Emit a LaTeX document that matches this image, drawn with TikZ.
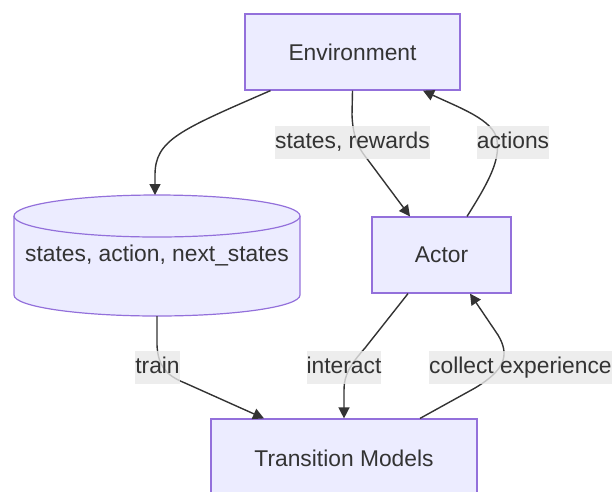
\documentclass[tikz,border=0pt]{standalone}
\usepackage{fontspec}
\setmainfont{Liberation Sans}
\usepackage{xcolor}
\usetikzlibrary{arrows.meta,positioning}
\definecolor{boxfill}{HTML}{ECECFF}
\definecolor{boxline}{HTML}{9370DB}
\definecolor{ink}{HTML}{333333}
\definecolor{lblgray}{HTML}{E8E8E8}

\begin{document}
\begin{tikzpicture}[x=1pt,y=-1pt,
    block/.style={draw=boxline,fill=boxfill,line width=1.2pt,text=ink,
      font=\fontsize{22.8}{27}\selectfont,inner sep=0pt},
    flow/.style={draw=ink,line width=1.4pt,-{Triangle[length=11pt,width=11pt]}},
    lbl/.style={fill=lblgray,fill opacity=0.8,text opacity=1,text=ink,
      font=\fontsize{22.8}{27}\selectfont,inner xsep=0pt,inner ysep=6pt,
      text height=16.5pt,text depth=4.5pt}]
  \useasboundingbox (0,0) rectangle (612,491);

  % boxes
  \node[block,minimum width=215pt,minimum height=76pt] (env) at (352.5,52) {Environment};
  \node[block,minimum width=139pt,minimum height=76pt] (actor) at (441.5,255) {Actor};
  \node[block,minimum width=266pt,minimum height=78pt] (trans) at (344,458) {Transition Models};

  % replay store as a cylinder
  \fill[boxfill] (14,216) rectangle (300,295);
  \fill[boxfill] (157,295) ellipse[x radius=143,y radius=21];
  \draw[boxline,line width=1.2pt] (14,216) -- (14,295)
    arc[start angle=180,end angle=0,x radius=143,y radius=21] -- (300,216);
  \filldraw[fill=boxfill,draw=boxline,line width=1.2pt] (157,216) ellipse[x radius=143,y radius=21];
  \node[text=ink,font=\fontsize{22.8}{27}\selectfont,text height=16.5pt,text depth=4.5pt]
    (store) at (157,255) {states, action, next\_states};
  \coordinate (storetop) at (155,195);
  \coordinate (storebot) at (157,316);

  % connectors
  \draw[flow] ([xshift=-82pt]env.south) .. controls (180,130) and (155,140) .. (155,175) -- (storetop);
  \draw[flow] (env.south) -- (352,115) .. controls (353,140) and (360,150) .. (368,160)
    -- ([xshift=-31.5pt]actor.north);
  \draw[flow] ([xshift=25.5pt]actor.north) .. controls (490,180) and (500,160) .. (497,140)
    .. controls (494,120) and (460,108) .. ([xshift=70.5pt]env.south);
  \draw[flow] (storebot) -- (157,345) .. controls (158,365) and (165,375) .. (185,383)
    -- ([xshift=-80pt]trans.north);
  \draw[flow] ([xshift=-33.5pt]actor.south) -- (365,348) .. controls (350,365) and (344,375) .. (344,390)
    -- (trans.north);
  \draw[flow] ([xshift=76pt]trans.north) -- (475,388) .. controls (505,370) and (510,355) .. (498,335)
    -- ([xshift=28.5pt]actor.south);

  % edge labels
  \node[lbl] (lblsr) at (352.5,142) {states, rewards};
  \node[lbl] (lblact) at (513,142) {actions};
  \node[lbl] (lbltrain) at (157.5,367) {train};
  \node[lbl] (lblint) at (344,367) {interact};
  \node[lbl,anchor=west] (lblcol) at (429,367) {collect experience};
\end{tikzpicture}
\end{document}
